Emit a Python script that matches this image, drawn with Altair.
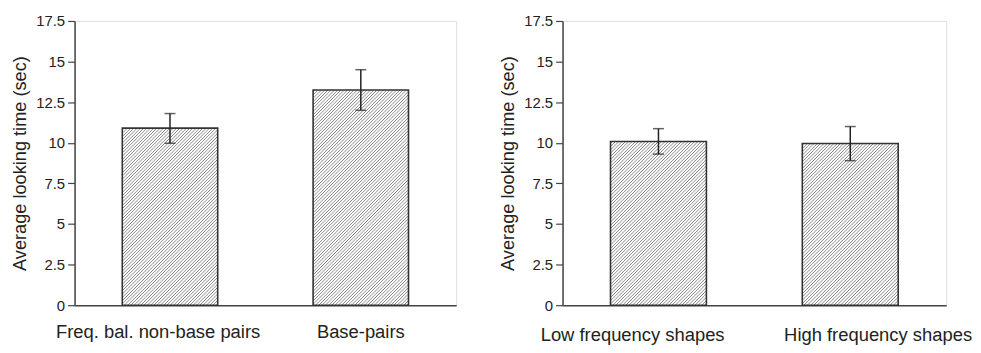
import altair as alt
import pandas as pd

# ---- data ----
left_categories = ["Freq. bal. non-base pairs", "Base-pairs"]
left_means = [10.9, 13.25]
left_low = [9.97, 12.0]
left_high = [11.8, 14.5]

right_categories = ["Low frequency shapes", "High frequency shapes"]
right_means = [10.08, 9.96]
right_low = [9.3, 8.9]
right_high = [10.87, 11.0]

y_ticks = [0, 2.5, 5, 7.5, 10, 12.5, 15, 17.5]
y_title = "Average looking time (sec)"

FONT = "Liberation Sans"
INK = "#222222"
PLOT_H = 286
Y_MAX = 17.5
BAR_W = 96
SPACING_PX = 3.3


def hatch_for(value):
    """Diagonal '/' hatch (about 45 degrees) as a striped linear gradient."""
    h = value / Y_MAX * PLOT_H
    r = h / BAR_W
    a = (1 + r) / (1 + r * r)
    b = r * a
    n = int(round(BAR_W / SPACING_PX * (1 + r)))
    stops = []
    for i in range(n):
        t0 = i / n
        stops += [
            {"offset": round(t0, 6), "color": "#ffffff"},
            {"offset": round(t0 + 0.28 / n, 6), "color": "#ffffff"},
            {"offset": round(t0 + 0.55 / n, 6), "color": "#7a7a7a"},
            {"offset": round(t0 + 0.82 / n, 6), "color": "#ffffff"},
            {"offset": round((i + 1) / n, 6), "color": "#ffffff"},
        ]
    return {"gradient": "linear", "x1": 0, "y1": 0, "x2": round(a, 5),
            "y2": round(b, 5), "stops": stops}


def panel(cats, means, lows, highs, offsets, label_pad, width):
    df = pd.DataFrame({"cat": cats, "mean": means, "low": lows, "high": highs})
    cond = {
        "condition": {"test": f"datum.value === '{cats[0]}'", "value": offsets[0]},
        "value": offsets[1],
    }
    x = alt.X(
        "cat:N",
        sort=cats,
        scale=alt.Scale(paddingInner=0.5, paddingOuter=0.25),
        axis=alt.Axis(
            title=None, labelAngle=0, ticks=False, labelOffset=cond,
            labelPadding=label_pad, labelFontSize=18.5, labelFont=FONT,
            labelColor=INK, domainColor="#444444", domainWidth=1.5,
            labelBaseline="top", labelLimit=0,
        ),
    )

    def ycode(field):
        return alt.Y(
            f"{field}:Q",
            scale=alt.Scale(domain=[0, Y_MAX], nice=False),
            axis=alt.Axis(
                title=y_title, values=y_ticks, labelExpr="'' + datum.value",
                grid=False, tickSize=7, tickColor="#444444", tickWidth=1.2,
                labelPadding=3, labelFontSize=15, labelFont=FONT, labelColor=INK,
                domainColor="#444444", domainWidth=1.5,
                titleFont=FONT, titleFontSize=18.3, titleFontWeight="normal",
                titleColor=INK, titlePadding=6,
            ),
        )

    base = alt.Chart(df)
    layers = []
    for c, m in zip(cats, means):
        layers.append(
            base.transform_filter(alt.datum.cat == c)
            .mark_bar(fill=hatch_for(m), stroke="#333333", strokeWidth=1.6)
            .encode(x=x, y=ycode("mean"))
        )
    rule = base.mark_rule(color=INK, strokeWidth=1.5).encode(
        x=x, y=ycode("low"), y2="high:Q"
    )
    top = base.mark_tick(color=INK, size=11, thickness=1.5).encode(x=x, y=ycode("high"))
    bot = base.mark_tick(color=INK, size=11, thickness=1.5).encode(x=x, y=ycode("low"))
    return alt.layer(*layers, rule, top, bot).properties(width=width, height=PLOT_H)


left = panel(left_categories, left_means, left_low, left_high, (-12, 0), 18, 384)
right = panel(right_categories, right_means, right_low, right_high, (-26, 28), 21, 386)

chart = (
    alt.hconcat(left, right, spacing=41)
    .properties(padding={"left": 2, "top": 4, "right": 0, "bottom": 0})
    .configure_view(stroke=None)
    .configure(background="white")
)

chart.save("out.html", embed_options={"renderer": "svg", "actions": False})
